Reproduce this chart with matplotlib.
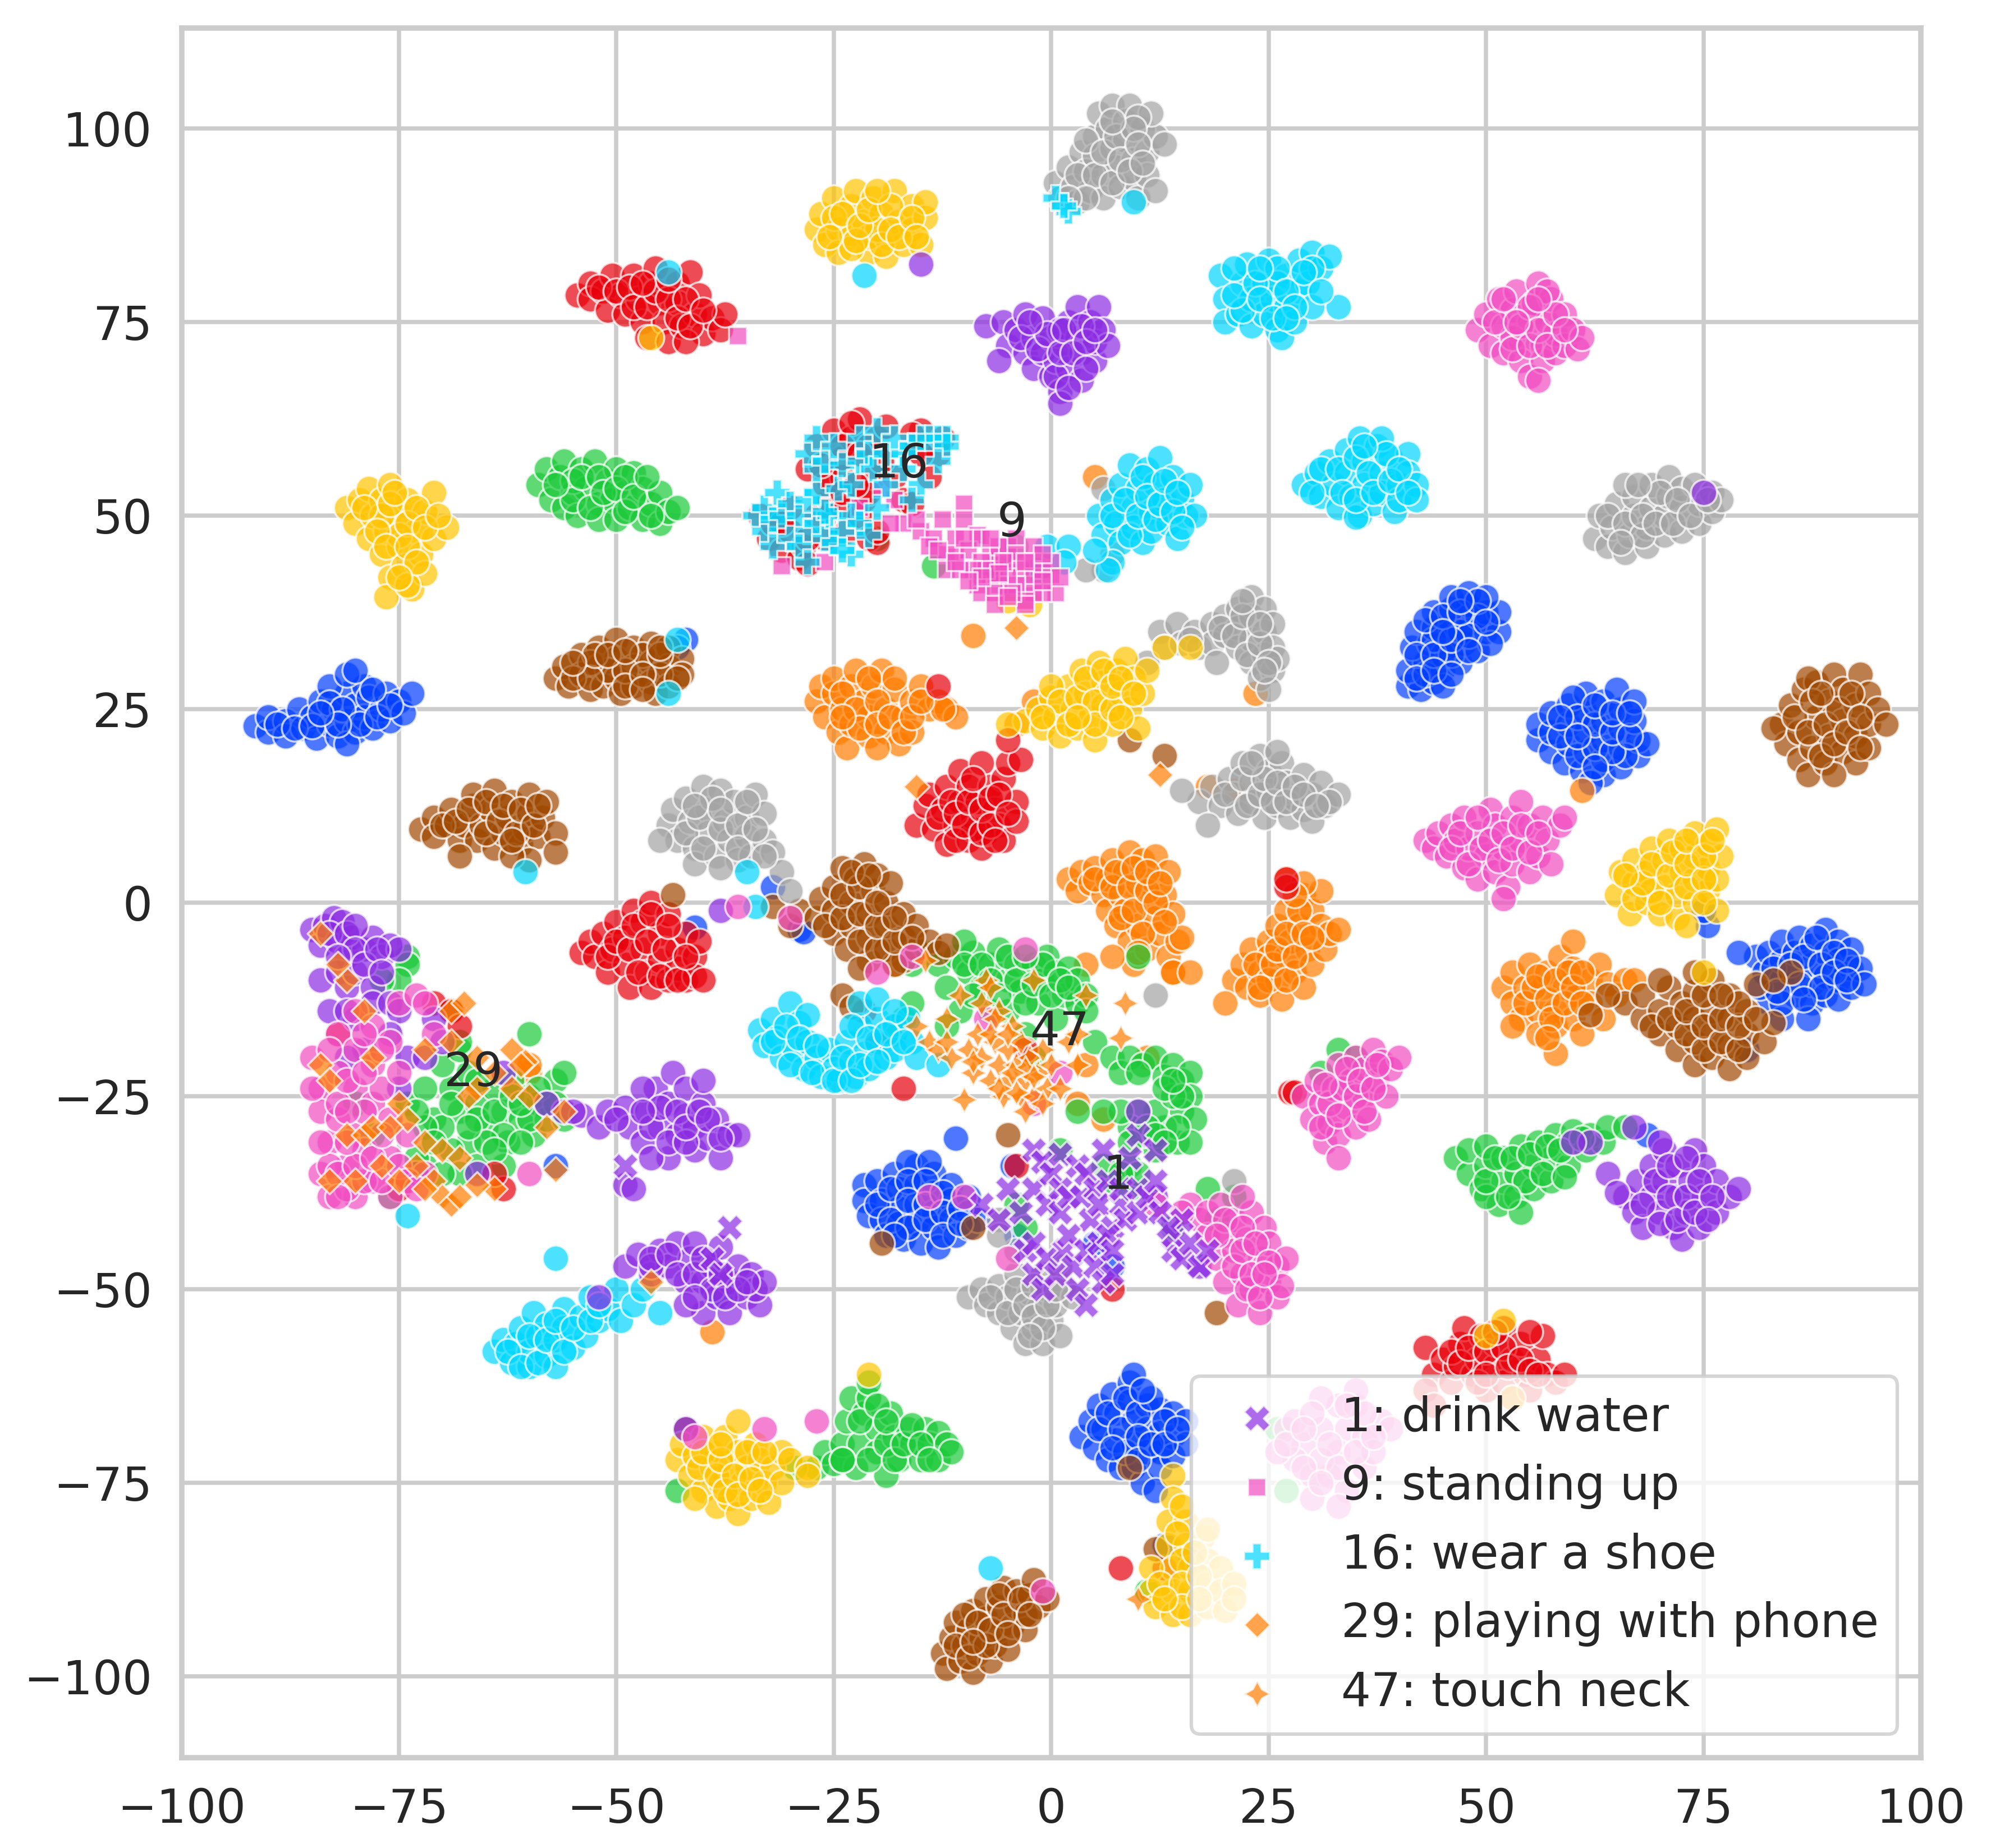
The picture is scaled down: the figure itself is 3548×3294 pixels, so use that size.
import matplotlib
matplotlib.use('Agg')
import matplotlib.pyplot as plt
import seaborn as sns

# t-SNE points, one list per colour
blue = [
    (-91.5,22.8),(-90,22),(-90,24),(-88,23.5),(-88,21.5),(-86.5,25),(-86,22.5),(-85,24),(-84.5,21.2),(-84,26),(-83,23),
    (-82.5,25),(-82,21.5),(-81,27),(-81,23.5),(-80,25.5),(-80,22),(-79,28),(-79,24),(-78.5,26.5),(-78,22.5),(-77,25),
    (-76.5,27),(-76,23.5),(-75,26),(-74.5,24.5),(-83,28),(-81,29.5),(-80,30),(-73.5,27),(-81,20.5),
    (41,28),(42.5,27.5),(44,28.5),(41,30),(43,31),(45,30),(47,31),(41.5,33),(43.5,33.5),(45.5,33),(47.5,33.5),(49,32.5),
    (42,35),(44,35.5),(46,35.5),(48,36),(50,35),(51.5,35),(44,37.5),(46,38),(48,38.5),(50,37.5),(51.5,37.5),(46,39.5),
    (48,40),(50,39.5),(43,29.5),(45,32),(47,35),(49,37),(44,34),(46,32),(48,34.5),(50.5,33.5),(45,28),
    (56,21),(56,23),(57.5,19.5),(57.5,22),(57.5,24.5),(59,18),(59.5,20.5),(59.5,23),(59.5,25.5),(61,17),(61.5,19.5),
    (61.5,22),(61.5,24.5),(61.5,27),(63.5,16.5),(63.5,18.5),(63.5,21),(63.5,23.5),(63.5,26),(65.5,17.5),(65.5,20),
    (65.5,22.5),(65.5,25),(65,27.5),(67.5,19),(67.5,21),(67,23.5),(67,26),(68.5,20.5),(62,15.5),(60,26.5),(66,19),
    (81,-7),(82,-9),(82.5,-6.5),(84,-10),(84,-7.5),(84,-5),(85.5,-12),(85.5,-9),(85.5,-6.5),(86,-4.5),(87.5,-13),
    (87.5,-10.5),(87.5,-8),(87.5,-5.5),(89,-3.5),(89,-6.5),(89,-9.5),(89,-12),(90.5,-5),(90.5,-7.5),(90.5,-10),
    (90.5,-12.5),(92,-6),(92,-8.5),(92,-11),(93,-8.5),(93.5,-10.5),(82.5,-13),(84,-15),(87,-15),(81.5,-11),(84,-13),
    (79,-6.5),(75.5,-3),(75,-1),(80,-19),
    (-21.5,-36.5),(-21.5,-38.5),(-21,-40.5),(-20,-36),(-19.5,-38.5),(-19.5,-41),(-19,-43),(-18,-35),(-17.5,-37),
    (-17.5,-39.5),(-17.5,-41.5),(-17,-43.5),(-15.5,-34),(-15.5,-36.5),(-15.5,-39),(-15.5,-41.5),(-15,-44),(-13.5,-35),
    (-13.5,-37.5),(-13.5,-40),(-13.5,-42),(-13,-44.5),(-11.5,-36.5),(-11.5,-38.5),(-11.5,-41),(-11,-43),(-9.5,-38),
    (-9.5,-40),(-9.5,-42),(-8.5,-41),(-16.5,-33.5),(-14,-33.5),(-11,-30.5),(-4.5,-34),(-4,-43),(7,-47),(5,-44),
    (3.5,-69),(4.5,-67),(5,-70.5),(5.5,-65),(6,-68),(6.5,-72),(7,-63.5),(7.5,-66),(7.5,-69.5),(8,-73),(9,-62),(9,-64.5),
    (9.5,-67),(9.5,-70),(9.5,-73),(11,-65),(11,-68),(11,-71),(10.5,-75),(12.5,-65.5),(12.5,-68.5),(12.5,-71),(12.5,-73),
    (14,-66),(14,-69),(14,-71.5),(15.5,-67),(15.5,-70),(9.5,-61),(12,-76),(13,-83),(16,-85),
    (-41,-3.2),(-32,2),(-29,-3.5),(-28.5,-3.8),(-57,-34),(68.5,-30),(-42,34),(-43,33),
    # second pass over the same blobs, the denser middles
    (-89,23),(-87,22.5),(-85,22.8),(-83,25.8),(-81.5,25),(-79.5,23),(-77.5,24),(-76,25.5),(-82,23),(-84,24.5),(-78,27.5),
    (42,32),(44,32),(46,34),(43,36.5),(45,37),(47,37.5),(49,39),(50,36.2),(42,29),(44,30),(46,29.5),(48,32.5),(45,35),(47,39),
    (58.5,21.5),(60.5,19),(60.5,24),(62.5,20),(62.5,23),(62.5,25.5),(64.5,19.5),(64.5,22),(64.5,24.5),(66.5,21.5),(66.5,24.5),(58.5,24),(60.5,21.5),(62.5,17.5),
    (83,-8.5),(85,-8),(86,-10.5),(86.5,-7),(88.5,-8),(88.5,-11),(88,-4.5),(90,-6.5),(90,-9),(91.5,-7.5),(91.5,-10),(86.5,-12.5),(83.5,-11.5),
    (-20,-39),(-18.5,-37),(-18.5,-41),(-16.5,-36),(-16.5,-38.5),(-16.5,-42),(-14.5,-36),(-14.5,-39),(-14.5,-41),(-12.5,-37.5),(-12.5,-40),(-12.5,-43),(-10.5,-39.5),(-10.5,-41.5),(-18,-43),
    (5.5,-68),(6.5,-66),(8,-68),(8.5,-64),(8.5,-71),(10,-66),(10,-69),(10,-72),(11.5,-64),(11.5,-70),(13,-67),(13,-70),(14.5,-68),(7,-70.5),(10.5,-63),
]
brown = [
    (-57,29),(-56,30.5),(-55.5,28),(-54,32),(-54,29.5),(-53,27.5),(-52,33),(-52,30.5),(-51.5,28),(-50,34),(-50,31.5),
    (-50,29),(-49.5,27),(-48,33),(-48,30.5),(-48,28),(-46,33.5),(-46,31),(-46,28.5),(-45.5,27),(-44,33),(-44,30.5),
    (-44,28),(-42.5,31.5),(-42.5,29.5),(-47,32),(-51,30),(-53,31),(-45,29.5),(-49,30),
    (-72.5,9.5),(-71,11),(-71,8.5),(-69.5,10),(-69,12),(-68,8),(-67.5,10),(-66.5,12.5),(-66.5,14),(-66,8),(-65.5,10),
    (-64.5,12),(-64,14.5),(-64,7),(-63,9),(-62.5,11),(-62,13),(-61,7.5),(-60.5,9.5),(-60,11.5),(-60,14),(-59,8.5),
    (-58.5,11),(-58,13),(-57,9),(-57,6.5),(-60,5.5),(-68,6),(-62,6),
    (84,23),(84.5,20.5),(85,25.5),(86,18.5),(86,22),(86.5,27.5),(87,16.5),(87.5,20),(88,24),(88,28.5),(89,18),(89.5,21.5),
    (89.5,26),(90,29.5),(91,19.5),(91,23.5),(91,27.5),(92.5,18),(92.5,21.5),(92.5,25.5),(93,29.5),(94,20),(94,23),(94,27),
    (95,25),(96,23),(83,22.5),(90,16.5),(87,29),
    (-30,-3),(-29,-1),(-27,-2),(-26.5,0.5),(-25,-4),(-25,-1),(-25,2),(-24,4.5),(-23.5,-6),(-23,-3),(-23,0),(-22.5,3),
    (-21.5,5),(-21,-7.5),(-21,-4.5),(-21,-1.5),(-20.5,1.5),(-20,3.5),(-19,-6),(-19,-3),(-19,0),(-18.5,2.5),(-17,-7.5),
    (-17,-4.5),(-17,-1.5),(-15.5,-6),(-15.5,-3),(-14,-5),(-13,-6.5),(-32,-0.5),(-22,-8.5),(-18,-8),(-12,-5.5),
    (66,-13),(68,-15),(68,-12),(70,-17),(70,-14),(71,-11),(72,-19),(72,-16),(72.5,-13),(74,-21),(74,-18),(74,-15),(74,-11.5),
    (76,-20),(76,-17),(76,-14),(76,-10),(78,-21.5),(78,-18.5),(78,-15),(78,-12),(80,-20),(80,-17),(80,-14),(81,-10.5),
    (82,-18),(83,-15.5),(70,-10),(74,-9),(64,-12),(62,-14.5),(85,-9),(83,-10),
    (-12.5,-97),(-12,-99),(-11.5,-95),(-11,-93),(-10.5,-98),(-10,-96),(-9.5,-94),(-9,-91.5),(-9,-99.5),(-8.5,-97),(-8,-95),
    (-7.5,-92.5),(-7.5,-90),(-7,-98),(-6.5,-96),(-6,-94),(-6,-91),(-5.5,-88.5),(-5,-96.5),(-4.5,-93.5),(-4,-91),(-4,-89),
    (-3,-94),(-3,-92),(-2.5,-89.5),(-2,-87.5),(-1.5,-91),(-0.5,-90),(-10,-92),
    (-42,-68),(-5,-30),(12,-83.5),(9,-73),(-19.5,-44),(-9,-42),(-24,-12),(-23,-13.5),(9,21),(13,19),(-43.5,1),(19,-53),
    # second pass
    (-55,29),(-53,29),(-52.5,32),(-51,32),(-49,28),(-49,32.5),(-47,29.5),(-47,27.5),(-45,32),(-43,29),(-55,31),(-45,33),
    (-70,10),(-68.5,10.5),(-67,12),(-65,9),(-65,13),(-63.5,10.5),(-63,12.5),(-61.5,9),(-61,12),(-59.5,10),(-59,12.5),(-62,8),
    (85.5,24),(87,22),(87.5,26),(88.5,19),(89,23),(90,20.5),(90.5,25),(91.5,22),(92,27),(93,24),(93,20),(88.5,27),
    (-26,-3),(-24,-2),(-24,1),(-22,-5),(-22,-1.5),(-22,2),(-20,-6),(-20,-3),(-20,0),(-18,-5),(-18,-2),(-16,-4.5),(-23,4),(-21,3.5),
    (69,-16),(71,-15),(73,-17),(73,-14),(75,-19),(75,-16),(75,-12),(77,-18),(77,-15),(79,-19),(79,-16),(79,-13),(81,-15),(77,-12),
    (-11,-96),(-9.5,-97.5),(-8.5,-93),(-7.5,-96),(-7,-94),(-6,-89.5),(-5.5,-92),(-5,-94.5),(-3.5,-90),(-2.5,-92),(-9,-95.5),
]
gray = [
    (0.5,93),(1,91),(2,95),(2.5,92.5),(3,90.5),(3.5,97),(4,94.5),(4.5,92),(5,99),(5,96.5),(5.5,102),(6,94),(6,91),(6.5,100),
    (7,97.5),(7,103),(7.5,95),(8,92.5),(8.5,101),(8.5,98.5),(9,103),(9.5,96),(9.5,93.5),(10,91),(10.5,100),(11,97),(11,94),
    (12,99),(12,92),(11.5,102),(13,98),(10,101.5),(4,98.5),
    (62.5,47),(63,50),(64,46),(64.5,48.5),(65,51.5),(66,45.2),(66.5,47.5),(67,50),(67,52.5),(68.5,46),(68.5,48.5),(69,51),
    (69,54),(70.5,47.5),(70.5,50),(71,52.5),(71,55),(72.5,48),(72.5,51),(72.5,53.5),(74.5,49),(74.5,51.5),(74,54),(76,50.5),
    (76,53),(66,54),(77,52),
    (12.5,35),(13,33),(14.5,36),(15,33.5),(16.5,35),(17,33),(18.5,36),(18.5,33.5),(20,37),(20,34.5),(21.5,38),(21.5,35.5),
    (21.5,33),(23,39.5),(23,37),(23,34),(23,31),(24.5,38),(24.5,35),(24.5,32),(24,29),(25.5,36),(25.5,33),(25.5,30),(26,31.5),
    (19,31),(11,31),(25,27.5),
    (17,13),(18.5,15),(19.5,12.5),(20.5,16),(21,14),(21.5,11.5),(22,18),(23,15.5),(23,13),(24,19),(24.5,11),(25,17),(25,14.5),
    (26,12.5),(26.5,18),(27,15.5),(27.5,11),(28,13.5),(29,16.5),(29,12),(30,14),(30,10.5),(31,15.5),(31.5,12.5),(33,14),(32,13),
    (18,10),(15,14.5),(26,19.5),
    (-44,10),(-43.5,12),(-43,8),(-42,13.5),(-41.5,10.5),(-41,7),(-41,5),(-40,15),(-39.5,12),(-39.5,9),(-38.5,6),(-38,14.5),
    (-37.5,10.5),(-37,8),(-36.5,13),(-36,5.5),(-35,11),(-35,8.5),(-34.5,6),(-34,14),(-33,11.5),(-33,8),(-32,6.5),(-31,4),
    (-30,1.5),(-38,4.5),(-45,8),
    (-9.5,-51),(-8,-50),(-7.5,-52),(-6,-49.5),(-6,-53),(-5,-51),(-4.5,-55),(-4,-48),(-3.5,-53),(-3,-57),(-2.5,-50.5),(-2,-55),
    (-1.5,-52.5),(-1,-48),(-1,-57),(-0.5,-50),(0,-54),(0.5,-52),(1,-56),(1.5,-49.5),(2.5,-51),(1,-47),(-4,-45),(-6,-41),
    (-6,-43),
    (6,53.5),(12,-12),(-6,44),(-4,46),(6,43),(4,43),(7,45),(21,-36),
    # second pass
    (3,94),(5,94),(6,97),(7,93),(7.5,99),(8,96),(9,94.5),(9.5,100),(10,98),(10.5,95.5),(4,91),(7,101),(2,91),
    (64,50),(66,49),(68,47.5),(68,50),(69.5,49),(70,53),(71.5,49),(72,52),(73.5,50),(75.5,52),(65.5,46.5),(67.5,54),
    (19.5,35.5),(21,34.5),(22,37),(22.5,32),(24,33.5),(24,36),(25,31),(16,34),(24.5,30),(22,39),
    (20,14),(22,16),(22.5,12.5),(24,14),(24.5,16),(25.5,13),(26,15.5),(27,13),(28,15),(29,14),(30.5,12.5),(23,18),
    (-42,9),(-40.5,11),(-40,7),(-39,13.5),(-38,9.5),(-38,12),(-36,10),(-36,7),(-35,13),(-34,9.5),(-33,6),(-41,12.5),
    (-7,-51),(-5,-53),(-4,-50),(-3,-52),(-2,-49.5),(-2,-53.5),(-1,-55),(-0.5,-52),(0.5,-50),(-2.5,-56),
]
yellow = [
    (-27,87),(-26.5,89),(-26,85),(-25,91),(-24.5,87),(-24.5,84),(-23,90),(-23,86.5),(-22.5,92),(-21.5,88),(-21,84),(-21,86),
    (-20.5,91),(-19.5,89),(-19,86),(-19,83.5),(-18,92),(-17.5,88),(-17,85),(-16,90),(-16,87),(-15,85),(-14.5,88.5),(-14.5,90.5),
    (-25,88.5),(-23,84.5),(-20,87),
    (-81,51),(-80,49),(-79.5,52),(-78.5,47),(-78.5,53.5),(-78,50),(-77,45),(-77,52),(-76.5,48),(-76,42),(-76.5,39.5),(-76,54),
    (-75,50),(-75,46),(-74.5,43.5),(-74,52),(-73.5,40.5),(-73,48),(-72.5,45),(-72,50.5),(-72,42.5),(-71,47),(-71,53),
    (-69.5,48.5),(-74,41),(-77,50),(-75,47.5),
    (-3,23.5),(-1.5,25),(-1,22.5),(0,26.5),(0.5,24),(1,21.5),(2,28),(2.5,25),(3,22.5),(3.5,30),(4,27),(4.5,24),(5,21),(5.5,31),
    (6,28.5),(6,25.5),(7,23),(7.5,30),(8,27),(8.5,31.5),(9,25),(9.5,29),(10,22.5),(10.5,27),(11,30),(-5,23),(0,28),(13,33),
    (65,1),(65.5,4),(66.5,-1.5),(67,2.5),(67,5.5),(68.5,0),(68.5,4),(69,7),(70,-1.5),(70.5,2),(70.5,5.5),(71,8),(72,-2),(72,1),
    (72.5,4),(72.5,7),(74,0),(74,3),(74,6),(74,9),(75.5,1.5),(75.5,4.5),(75.5,7.5),(76.5,-1),(76.5,3),(76.5,9.5),(77,6),(73,-3),
    (-43,-72),(-42.5,-70),(-41.5,-74),(-41,-71.5),(-40,-69),(-40,-76),(-39,-73),(-39,-71),(-38.5,-78),(-38,-75),(-37.5,-69),
    (-37,-73),(-37,-77),(-36,-71),(-36,-79),(-35.5,-75),(-35,-73),(-34.5,-77),(-34,-70),(-33.5,-72),(-33,-75),(-32.5,-77.5),
    (-32,-73),(-31,-71),(-31,-75),(-30,-72),(-28,-73),(-41,-77),
    (14,-74),(14,-77),(13.5,-80),(13.5,-83),(14,-86),(11.5,-86),(11.5,-89),(12,-91),(14,-89),(14,-92),(15.5,-80),(15.5,-83),
    (16,-86),(16,-89),(16,-92),(17.5,-82),(18,-85),(18,-88),(18,-91),(19.5,-86),(19.5,-89),(20,-91.5),(21,-88),(21,-90),(18,-81),
    (-5,39),(-2.5,38.5),(50,-56),(52,-54),(-21,-61),(-36,-67),(16,33),(69,1.5),(53,-64),(-28,-74),(75,-9),(-46,73),
    # second pass
    (-25.5,86),(-24,89),(-22.5,85.5),(-22,87.5),(-21,89.5),(-19.5,85),(-18.5,90),(-18.5,87),(-17.5,86),(-16,88.5),(-15.5,86),(-20,92),
    (-79,51),(-77.5,48),(-76.5,46),(-76,51.5),(-75.5,53),(-74,49),(-74,46),(-73,51),(-73,44),(-72,48.5),(-75,42),(-70.5,50),
    (1,26),(2,23),(3,26.5),(4,29),(5,26),(5,23),(6,30),(7,25),(7,28),(8,29),(8,24),(9.5,27),(3,24),(-1,24),
    (67,0.5),(68,2.5),(69,5),(70,0),(71,3.5),(71.5,6.5),(73,2),(73,5),(73,8),(75,3),(75,6),(75,0),(76,8),(66,3.5),
    (-40.5,-73),(-40,-71),(-38.5,-74),(-38,-72),(-37.5,-76),(-36.5,-74),(-36,-76.5),(-35,-71),(-34.5,-74.5),(-33.5,-76),(-33,-71),(-38,-70),
    (12.5,-88),(15,-85),(15,-88),(15,-91),(17,-87),(17,-90),(13,-90),(15,-78),(14.5,-81.5),(16.5,-84),
]
cyan = [
    (19.5,81),(20,78),(20,75),(21.5,76),(22,80),(22.5,82.5),(23,78),(23,74.5),(24.5,76),(24.5,80),(25,83),(25.5,78),(26,74),
    (26.5,73),(27,81),(27,77),(28.5,79),(28.5,83),(28,75),(29.5,80),(30,84),(30,77),(31,82),(32,83.5),(30,82),(26,80),(33,77),
    (22,76.5),
    (29,54),(30.5,55.5),(31,52.5),(32,57),(32.5,54),(33,51),(34,58.5),(34,55.5),(34.5,52.5),(35.5,60),(35.5,50),(36,57),(36,54),
    (37,51.5),(37.5,59),(38,55.5),(38,53),(39,57.5),(39.5,50.5),(40,54),(40,52),(41,58),(41,55.5),(42,54),(42,52),(30,53),
    (35,49.8),(38,60),
    (5.5,50),(6,47.5),(7,52),(7.5,49),(8,54),(8,46.5),(9,56.5),(9.5,51),(9.5,48.5),(10,53.5),(10.5,46.5),(11,56),(11.5,50.5),
    (11.5,48),(12,54),(12.5,57.5),(13,52),(13.5,49),(14,55),(14.5,47),(15,52),(15.5,50),(16,54),(16.5,50),(7,44),(6.5,43),(5,45.5),
    (-33.5,-16.5),(-33,-18.5),(-32,-15),(-31.5,-17.5),(-31,-20),(-30,-13),(-29.5,-19),(-29,-15.5),(-28.5,-21.5),(-28,-18),
    (-27,-20),(-26.5,-22.5),(-25.5,-19),(-25,-21.5),(-24.5,-23),(-23.5,-18),(-23,-20.5),(-22.5,-22.5),(-22,-16),(-21.5,-19.5),
    (-21,-21.5),(-20,-15),(-20,-18),(-19,-20),(-18,-16),(-18,-19),(-16.5,-15),(-16,-18),(-15.5,-20),(-22,-13),(-20,-12.5),(-28,-14.5),
    (-64,-58),(-63,-56.5),(-62,-59.5),(-61.5,-57),(-61,-55),(-60,-60),(-60,-58),(-59.5,-53),(-59,-56),(-58,-58.5),(-58,-54.5),
    (-57,-60),(-57,-56.5),(-56,-52.5),(-56,-55),(-55,-57.5),(-54,-53.5),(-53.5,-56),(-53,-51),(-52,-54),(-51,-52.5),(-50,-50),
    (-49.5,-54),(-48,-52),(-47,-50),(-57,-46),(-45,-53),
    (-21.5,81),(9.5,90.5),(-44,81.5),(-60.5,4),(-34,-0.5),(-74,-40.5),(-43,34),(-44,27),(-35,4),(-0.5,46),(2,46),(1.5,44),(-1.5,43),
    (-13,-21),(-38,-51),(-7,-86),(-23,-16),(-18,-14),
    # second pass
    (21,78.5),(23.5,80),(24,78),(25.5,75.5),(26,82),(27,79),(28,77),(29,81.5),(21,82),(24,82),(27,75.5),(31,79),
    (31,56),(33,56),(33.5,53),(35,52),(35,57.5),(36.5,55.5),(37,53),(38.5,58),(39,54.5),(40,56),(41,53),(36,59),
    (7,50),(8.5,52),(9,47.5),(10,50),(10.5,55),(11,52.5),(12,49.5),(12.5,51.5),(13,54.5),(14,50.5),(15,48.5),(14.5,53),
    (-32,-18),(-30.5,-16),(-30,-21),(-29,-17.5),(-27.5,-22),(-27,-18.5),(-25,-23),(-24,-20),(-23,-23),(-22,-21),(-21,-17.5),(-20,-20.5),(-19,-17),(-17,-18),
    (-62.5,-58),(-61,-60),(-60,-56),(-59,-59.5),(-58,-56.5),(-57,-54),(-56,-58),(-55,-55),(-53,-54),(-52,-52),
]
purple = [
    (-7.5,74.5),(-5.5,75),(-5,72),(-4,74),(-3,76),(-3,71),(-2,73),(-2,69),(-1,75.5),(-1,71),(0,73),(0,68),(0.5,70),(1,66),(1,64.5),
    (1.5,72),(2,75),(2,69),(3,77),(3,73),(3.5,67.5),(3.5,71),(4.5,75),(5,70),(5,72.5),(5.5,77),(6,74),(6.5,72),(1,74),(-6,70),
    (66,-38),(67,-40),(67.5,-36),(68,-42),(69,-38),(69,-34),(70,-40),(70.5,-36),(70.5,-32),(71.5,-42),(72,-38),(72,-34),(72.5,-43.5),
    (73,-40),(73.5,-36),(74,-32),(74.5,-42),(75,-38),(75,-34),(76.5,-40),(76.5,-36),(78,-38),(79,-37),(64,-35),(62,-31),(60,-31),
    (67,-29),(70,-31),(65,-37.5),
    (-56,-27),(-54,-27.5),(-52,-29),(-51,-27),(-49,-26.5),(-48.5,-29),(-47,-31),(-46.5,-27),(-45.5,-24),(-45,-29),(-44,-33),
    (-44,-26),(-43.5,-22),(-43,-30),(-42,-24),(-42,-27.5),(-41,-32),(-41,-29),(-40,-26),(-39.5,-30.5),(-38.5,-28),(-38,-33),
    (-37,-30),(-46,-33),(-49,-36.5),(-48,-37),(-47,-24),(-40,-23),(-36,-30),
    (-49,-47),(-47.5,-45.5),(-46,-48),(-45,-45),(-44,-47),(-43,-44),(-42,-49),(-41.5,-46),(-41,-44),(-40,-53),(-40,-49),(-39,-47),
    (-38.5,-51),(-38,-44.5),(-37,-49),(-37,-53),(-36,-47),(-35,-51),(-34.5,-48),(-33.5,-52),(-34,-50),(-33,-49),(-42,-52),(-52,-51),
    (-85,-3.5),(-84,-5.5),(-83.5,-3),(-82.5,-2),(-82,-5),(-81.5,-2.5),(-81,-7),(-80.5,-4.5),(-79,-6),(-78,-4.5),(-77,-7),(-76,-5.5),
    (-75,-6),(-84,-10),(-82,-9),(-81,-11),(-80,-9),(-78,-11),(-83,-14),(-80,-15),(-78,-13),(-76,-13),(-75,-14),(-76,-17),(-79,-19),
    (-81,-20),(-74,-20),(-71,-15),(-75,-24),(-72,-20),(-73,-35),(-70,-18),(-63,-22),(-58,-26),(-55,-27),(-66,-35),
    (-38,-1),(12,-38),(-15,82.5),(-46,-47),(-42,-68),(75,53),(10,-27),(17,-47),
    # second pass
    (-3.5,73),(-1.5,71.5),(-0.5,73.5),(0.5,68),(1,71),(1.5,74),(2,66.5),(2.5,71),(3.5,74.5),(4,69),(4,72.5),(5,74),(-2.5,75),
    (68,-39),(69.5,-36),(70,-41.5),(71,-38),(71,-34),(72,-41),(73,-38),(73,-33),(74,-40),(74.5,-36),(76,-38),(75.5,-41),
    (-50,-28),(-46,-29),(-45,-26.5),(-44,-31),(-43,-27),(-42,-31),(-42,-29),(-40.5,-27),(-39.5,-28),(-38,-30.5),(-47,-27),
    (-46,-46),(-44,-45.5),(-43,-48),(-41,-48),(-40,-46),(-39,-50),(-38,-48),(-37.5,-51),(-36,-50),(-35,-49),(-41,-51),
    (-83,-4),(-81,-4),(-80,-3),(-80,-6),(-82,-7),(-79,-8),(-77.5,-6),(-81,-14),(-77,-9),
]
red = [
    (-54.5,78.5),(-53,80),(-53,78),(-51.5,79),(-51,76.5),(-50.5,81),(-49.5,78.5),(-49,76),(-48,81),(-47.5,78),(-47,75),(-46.5,73),
    (-46,80),(-45.5,82),(-45,77.5),(-44.5,75),(-44,72.5),(-43,80),(-43,77.5),(-42.5,74.5),(-41.5,81.5),(-41,76),(-40.5,78.5),
    (-40,73.5),(-39,75.5),(-38,74),(-37.5,76),(-42,72.5),(-52,79.5),
    (-15.5,10),(-14.5,12.5),(-14,14),(-13.5,9.5),(-12.5,12),(-12,15),(-12,7.5),(-11,10),(-10.5,17),(-10.5,13),(-9.5,8),(-9.5,15),
    (-9,11),(-8.5,13),(-8,18),(-8,7),(-7.5,9),(-7,15),(-6.5,12),(-6,10),(-5.5,16),(-5.5,8),(-5,18),(-4,13),(-4,10.5),(-3.5,18.5),
    (-5,21),(-9,9.5),(-11,8),
    (-54,-6.5),(-53,-5),(-52.5,-7),(-51.5,-4),(-51,-9),(-50.5,-6),(-50,-2.5),(-49,-8),(-49,-4.5),(-48.5,-11),(-48,-1),(-47,-6),(-47,-2.5),
    (-46.5,-9),(-46,0),(-46,-11),(-45,-4),(-45,-7.5),(-44,-10),(-44,-1.5),(-43,-6),(-43,-8.5),(-42,-10),(-42,-4),(-41,-7),(-41,-9.5),
    (-40,-10),(-40.5,-5),
    (43,-57.5),(44,-61),(45,-59),(46,-62),(46.5,-60),(47,-57),(47.5,-55),(48.5,-61),(49,-59),(49.5,-56),(50,-63),(51,-60),(51,-57),
    (52,-55),(52,-62),(53,-59),(53,-64),(54,-57),(54.5,-61),(55,-63),(56,-59),(56.5,-56),(57,-61),(58,-62),(59,-61),(55,-55.5),
    (-33.5,50),(-32.5,47),(-32,49),(-31,45.5),(-30,48),(-30,51),(-29,44.5),(-28.5,46),(-28,43.8),(-27,50),(-26,47),(-25.5,52),
    (-25.5,54.5),(-24,51),(-24,55),(-23.5,48),(-22,50),(-21.5,52),(-21,47),(-20,46.5),
    (-28,56),(-27,59),(-26,54),(-25,61),(-24,57.5),(-23,60),(-22,62.5),(-21,59),(-20.5,55),(-20,60),(-19,61.5),(-18,55),(-17,52),
    (-16,51.5),(-15,61),(-14.5,59),(-13,58),(-12.5,60),(-14,55),(-20,48),(-26.5,56.5),(-21,53),
    (-82,-17),(-71,-13),(-69,-14),(-68,-16),(27.5,-24.5),(28,-24.5),(27,2),(27,3),(-3,-19),(-20,-18),(7,-50),(-13,28),(-21.5,-14),
    (8,-86),(13,-86),(-4,-34),(-17,-24),(-63,-37),(-64,-35),(43,-63),(44,-65),(-75,-37),
    # second pass
    (-50,79),(-48.5,79.5),(-48,77),(-46.5,77),(-45.5,79),(-44,78),(-44,80.5),(-43,75.5),(-42,78),(-41.5,74.5),(-47,80),(-40,76.5),
    (-13,11),(-11.5,13),(-11,11.5),(-10,10),(-9.5,13),(-9,16),(-8,9),(-8,12),(-7,13.5),(-7,10),(-6,14),(-5,11.5),(-6.5,8),
    (-51,-7),(-50,-5),(-48.5,-6),(-48,-3),(-47.5,-9),(-46.5,-5),(-46,-1.5),(-45,-9.5),(-44.5,-6),(-44,-3),(-43,-10),(-42,-7),
    (46,-58),(47,-59.5),(48,-57.5),(49,-62),(50,-58),(50,-61),(52,-57.5),(52.5,-60),(54,-59),(55,-60.5),(56,-61),(51,-55.5),
    (-31,49),(-28,47),(-24,53),(-22.5,54),(-23,62),(-24,59),(-19.5,57),(-16,60.5),(-15,58),(-22,58),
]
orange = [
    (-27,26),(-26.5,28),(-26,24),(-25,27),(-25,29),(-24.5,22),(-24,25),(-23.5,20),(-23,28),(-23,23),(-22.5,30),(-21.5,26),(-21,21.5),
    (-21,24),(-20.5,28),(-19.5,30),(-19,25),(-19,22),(-18,27.5),(-17.5,20.5),(-17,24),(-16,26),(-16,22),(-15,28),(-14,25),(-13,26),
    (-12,25),(-11,24),(-20,20),
    (2,3),(3,1.5),(3.5,4),(4.5,2.5),(5,4.5),(6,1),(6.5,3),(6.5,-1),(7,5.5),(7.5,-3),(8,1),(8.5,4),(8.5,-1),(9,6.5),(9,-5),(9.5,-8),
    (10,2.5),(10,-3),(10.5,5.5),(11,0),(11,-6),(11.5,3),(12,-2),(12,6),(12.5,-4),(13,1),(13.5,-7),(13.5,4),(14,-1.5),(14.5,-5),(15,-4.5),
    (14,-9),(4,-8),(7,-7),
    (21,-10),(22,-8),(22.5,-11),(23,-6),(24,-9),(24,-12),(25,-5),(25,-7),(26,-10),(26,-3),(26.5,-12.5),(27,-7),(27,-1),(27.5,-5),(28,-9),
    (28.5,-3),(29,1),(29,-11),(29.5,-6),(30,-1),(30,-8),(31,-3),(31,1.5),(31.5,-6),(32,-4),(33,-3.5),(27,3),(29,2.5),
    (52,-11),(53,-13),(53,-9),(54,-15),(54.5,-11),(55,-8),(56,-14),(56,-17),(56.5,-11),(57,-9),(58,-14),(58,-19.5),(58,-16),(58.5,-7),
    (59,-11),(60,-15),(60,-8.5),(60,-5),(60.5,-12),(61,-17),(62,-10),(62,-13),(63,-8),(63.5,-15),(64,-10.5),(65,-12),(66,-10),(67,-10),(53,-16),
    (-9,34.5),(61,14.5),(-12.5,25),(14,-9),(21,14.5),(23.5,27),(3,-26),(16,-9),(20,-13),(-60,-22),(-60,-21),(-39,-55.5),(-18,-8),
    (5,55),(6,-28),(-4,23),(-2,26),(11,-20),(4,-21),(18,15),
    # second pass
    (-24,27),(-22.5,25),(-22,22.5),(-21,29),(-20,26),(-20,23),(-18.5,24),(-18,29),(-17,22),(-16,24),(-24,24),(-15,26),
    (5,3),(7,2),(7.5,4),(8,-2),(9,2),(9.5,-1),(9.5,4.5),(10.5,-4),(11,1.5),(11,4),(12,0),(12.5,2.5),(13,-2.5),(10,-6.5),
    (23.5,-8),(25,-10),(25.5,-8),(26,-6),(27,-4),(27,-10),(28,-7),(28.5,-1),(29,-4),(30,-4.5),(28,1),(24,-11),
    (54.5,-13),(55.5,-11),(56,-9.5),(57,-12.5),(57.5,-15),(58,-10),(59,-13),(59.5,-9),(60,-11),(61,-13),(61,-9),(57,-17.5),
]
green = [
    (-59,54),(-58,56),(-57.5,52),(-56.5,55),(-56,57),(-56,51),(-55,53),(-54.5,50),(-54,56),(-53.5,53.5),(-52.5,57),(-52,51.5),(-52,49.5),
    (-51,54.5),(-50.5,52),(-50,56),(-50,49.5),(-49,53),(-48.5,51),(-48,55.5),(-47,49.5),(-47,53.5),(-46,51.5),(-45,49),(-45,53),(-44,50.5),
    (-43,51),(-55,54.5),
    (46.5,-33),(48,-35),(48,-32),(49.5,-37),(50,-34),(50,-31.5),(51.5,-39),(52,-36),(52,-33),(53.5,-38),(53.5,-35),(54,-31.5),(55.5,-37),
    (55.5,-34),(56,-31),(57.5,-36),(57.5,-33),(58,-30),(59.5,-34),(59.5,-31),(60,-29.5),(61.5,-32),(62,-30),(63.5,-31),(64,-29),(66,-29),
    (54,-40),(50,-38),
    (-27,-73),(-26,-71),(-25,-72.5),(-24,-70),(-23.5,-67),(-23,-64),(-22.5,-73),(-22,-70),(-21.5,-66),(-21,-64),(-20,-68),(-20,-71),
    (-19,-74),(-18.5,-66),(-18,-69),(-17.5,-72),(-16.5,-68),(-16,-70),(-15,-72),(-14.5,-68),(-14,-70),(-13,-72),(-13,-68.5),(-12,-70),
    (-11.5,-71),(-21,-62),(-29.5,-73),
    (-16,-8),(-14.5,-6.5),(-13,-8),(-12,-11),(-11,-7),(-10.5,-14),(-9.5,-9),(-9,-6.5),(-8,-11),(-7,-14),(-7,-8),(-6,-6),(-5,-10),(-5,-14),
    (-4,-8),(-3.5,-11.5),(-3,-17),(-2,-8),(-1.5,-13),(-1,-10),(-0.5,-7),(0.5,-9),(0.5,-15),(1.5,-12),(2,-8.5),(3,-10),(3,-13),(4,-12),(4,-14),
    (-17,-15),(-12,-16),(-2,-20),(-16,-13),(-18,-17),(5,-18),
    (7,-20),(8,-22),(9,-20),(10.5,-21),(12,-20),(13,-22.5),(14,-21),(15,-23),(16,-22),(16,-25),(15,-27),(16.5,-28),(14.5,-31),(13,-29),
    (12,-27),(12,-32),(10.5,-30),(10,-27),(9,-29),(8,-27),(6,-27),(3,-27),(14,-25),(16,-31),(7,-36),(6,-34),(9,-34),(9,-37),(10,-35),(1,-32),
    (-69,-24),(-68,-27),(-67,-22),(-66,-26),(-65,-29),(-64,-24),(-63,-27),(-62.5,-31),(-62,-23),(-61,-28),(-60,-25),(-59.5,-30),(-59,-26),
    (-58,-28),(-57,-23),(-57,-26),(-56,-28),(-67,-31),(-66,-34),(-63,-34),(-69,-32),(-71,-28),(-70,-21),(-68,-19),(-72,-34),(-74,-26),
    (-72,-24),(-74,-7),(-74,-8),(-75,-10),(-77,-10),(-69,-14),(-68,-18),(-60,-17),(-56,-22),(-80,-26),(-78,-30),(-76,-38),(-73,-33),
    (-13.5,43.5),(-20,47),(-4,-39),(19,-41),(14,-42),(18,-37),(21,-38),(-3,-42),(-24,-72),(-43,-76),(33,-19),(35,-20),(31,-22),(11,-89),
    (-10,-5),(10,-7),(27,-76),(26,-68),
    # second pass
    (-55,52),(-54,55),(-53,51),(-52,55),(-51.5,53),(-50,53.5),(-49,55),(-49,50.5),(-48,52.5),(-46.5,55),(-46,50),(-57,54),
    (50,-36),(51,-33),(53,-33),(54.5,-36),(55,-32.5),(56.5,-35),(57,-31.5),(58.5,-32),(59,-35.5),(61,-30.5),(52.5,-38),
    (-22,-67),(-21,-72),(-20,-65),(-19,-70),(-18,-72),(-17,-70),(-16,-67.5),(-15,-70),(-14,-72),(-19,-67),(-24,-72),
    (-10,-8),(-8,-8),(-7,-10),(-6,-12),(-5,-7),(-4,-10),(-3,-13),(-2,-10.5),(-1,-8),(0,-12),(1,-10),(2,-11),(-9,-12),(-3,-7),
    (13,-24),(14.5,-29),(15,-25),(11,-29),(12,-30),(13,-31),(9,-31),(10,-22),(14,-23),(8,-35),
    (-66,-28),(-64,-27),(-63,-30),(-62,-25),(-60,-28),(-61,-31),(-59,-24),(-65,-31),(-58,-26),(-66,-23),(-64,-32),(-61,-26),
    (-70,-29),(-72,-29),(-71,-31),(-73,-27),(-68,-35),(-70,-35),(-67,-29),(-69,-26),
]
pink = [
    (49,74),(50,76),(50.5,72),(51.5,78),(52,74.5),(52,71),(53,76.5),(53.5,79),(54,72.5),(54,70),(55,75),(55,68),(55.5,77.5),(56,80),(56.5,72),
    (56.5,70),(57,75),(57.5,78),(58,71),(58,73.5),(59,76),(59,72),(60,74),(60.5,71.5),(61,73),(53,73),(56,67.5),(57,79),
    (43,8),(44,7),(44.5,9),(45.5,6),(46,10),(46.5,8),(47.5,4.5),(47.5,11),(48,7),(49,9),(49,3),(50,6),(50.5,12),(51,4),(51,10),(52,7),
    (52.5,2),(53,11),(53,5),(54,13),(54,8),(55,4),(55,10),(56,6),(56.5,11),(57,8),(57.5,5),(58.5,10),(59,11),(52,0.5),
    (29,-25),(30,-28),(30.5,-23),(31,-26),(31.5,-31),(32,-28.5),(32.5,-24),(33,-21),(33,-30),(34,-26.5),(34.5,-23),(35,-20),(35,-29),(36,-25),
    (36,-21.5),(36.5,-28),(37,-19),(37.5,-23),(38,-20.5),(38.5,-25),(39,-21.5),(40,-20),(33,-33),
    (16,-39),(17,-41),(18,-43),(18,-40),(19,-46),(19.5,-39),(20,-43),(20,-49),(21,-41),(21,-45),(21.5,-52),(22,-48),(22.5,-43.5),(23,-50),
    (23,-40),(24,-46),(24,-53),(24.5,-42),(25,-49),(25,-44),(26,-47),(26,-51),(26.5,-49.5),(27,-46),(22,-38),(15,-40),(12,-39),
    (33,-65),(34,-68),(27,-68),(29,-70),(31,-68),(33,-71),(35,-65),(36,-69),(28,-72),(30,-74),(32,-74),(34,-76),(36,-73),(38,-67),(37,-71),
    (31,-64),(30,-77),(33,-78),(39,-68),(26,-71),(28,-67),(31,-72),(-33,-68),(35,-63),
    (30,-66),(32,-70),(29,-73),(33,-73),(35,-71),(27,-70),(36,-66),(34,-65),(31,-75),(37,-69),(29,-68),
    (-85,-20),(-84,-24),(-84,-27),(-83,-31),(-84,-35),(-83,-38),(-82,-22),(-82,-17),(-82,-28),(-81,-34),(-80,-38),(-80,-14),(-80,-19),(-80,-24),
    (-80,-30),(-78,-16),(-78,-21),(-78,-26),(-78,-36),(-79,-32),(-76,-18),(-76,-28),(-76,-33),(-76,-38),(-75,-13),(-73,-12),(-72,-35),(-74,-30),
    (-72,-13),(-81,-37),(-83,-34),(-77,-24),(-60,-35),(-75,-22),(-71,-17),
    (-7.5,-15),(-20,-9),(-16,-7),(-36,-0.5),(-2,-26),(-30,-2),(-41,-69),(-27,-67),(-1,-89),(-14,-38),(-5,-46),(-10,-38),(1,-22),(-3,-6),
    # second pass
    (51,75),(52,78),(53,71.5),(54,74.5),(55,72),(55,77),(56,74),(57,72),(58,76),(59,74),(56,78),(53.5,75),
    (46,7),(47,9),(48,5),(49,11),(49.5,7),(50.5,8),(51.5,5.5),(52,9),(53,7),(54,10),(55,6.5),(56,9),
    (31,-29),(32,-26),(33,-27.5),(33.5,-24),(34,-21.5),(35,-25),(35.5,-23),(36,-27),(37,-24),(37.5,-21),(31.5,-23.5),
    (20,-41),(21,-47),(22,-42),(22,-45),(22.5,-50),(23,-48),(23.5,-44),(24,-51),(25,-46.5),(24.5,-48),(19,-43),
    (-82,-26),(-81,-23),(-79,-22),(-79,-27),(-82,-35),(-79,-36),(-77,-19),(-80,-34),(-77,-36),
    (-85,-24),(-84,-31),(-83,-19),(-81,-27),(-81,-31),(-79,-17),(-78,-33),(-77,-30),(-75,-34),(-74,-36),(-82,-38),(-73,-37),
]
# actions picked out with their own marker
drink_water = [
    (-8,-39),(-6,-41),(-5,-37),(-3.5,-40),(-3,-45),(-2,-37),(-2,-32),(-1,-33.5),(-0.5,-39),(0,-35),(1,-32.5),(1,-37),(1,-40),(2,-38),(3,-34),
    (3.5,-38),(4,-35),(4.5,-41),(5,-37),(5.5,-39),(6,-32),(6.5,-36),(7,-42),(8,-39),(8,-37),(8.5,-41),(9,-33),(10,-37),(10,-40),(11,-38),
    (12,-36),(12.5,-40),(-2,-48),(-2,-44),(-1,-50),(-0.5,-46),(0.5,-48),(1.5,-45),(2.5,-47),(2,-43),(3,-50),(4,-45),(4,-52),(5,-47),(5.5,-44),
    (6,-49),(6.5,-43),(7,-45),(7,-48),(14,-45),(14,-43),(15,-46),(15,-41),(16,-44),(13.5,-42),(17,-47),(18,-45),(10,-30),(12,-32),(-37,-42),
    (-39,-46),(-38,-48),(-49,-34),
]
standing_up = [
    (-18,52),(-19.5,53.5),(-17,49),(-15,48),(-13.5,47),(-12.5,49.5),(-10,51.5),(-10,49.5),(-8.5,47.5),(-12,45),(-11,47),(-11,45),(-9.5,45.5),
    (-8,47),(-7,45),(-6.5,43),(-6,46),(-5,46),(-5,44),(-4,47),(-4,45),(-3.5,43),(-3,41),(-2,46),(-2,44),(-2,42),(-1,43),(0,44),(0,42),(0.5,40),
    (-1,40),(-2,40),(-4,41),(-5,42),(-6,41),(-7,42),(-8,44),(-8.5,41),(-8,40),(-6.5,40),(-7.5,43),(-9,43),(-3,39),(-3,38.5),(-18.5,49),(-36,73.2),
    (-15.5,49.5),(-14,46),(-12,43),(-10.5,43),(-13,45.5),(-1,45),(1,42),(-31,43.5),(-26,44),(-22,51),
    (-10,47),(-7,47),(-5.5,44),(-4.5,40),(-3,44),(-1,41.5),(-6,42.5),(-8,42),(-11,44),(-6.5,38.5),(-5,39.5),(-9.5,41.5),
]
wear_shoe = [
    (-34,50),(-33,48),(-33,51),(-32,46),(-32,49.5),(-31.5,53),(-31,50),(-30,51.5),(-30,47),(-29,50),(-28,52),(-28,48),(-27,49),(-26,47),(-25.5,50),
    (-25,46.5),(-24,48),(-23,50),(-23,45),(-22,49),(-21,47.5),(-24,45.5),(-27,53),(-29,46),(-28,44),(-26,50.5),
    (-28,58),(-27,56),(-27,60),(-26,57),(-25,59),(-24.5,53.5),(-24,56.5),(-23,54),(-22,60),(-22,57),(-21,58),(-20.5,56),(-20,61),(-19,58),(-19,54),
    (-18,60),(-17,58),(-17,56),(-16,59),(-15,60),(-14,60),(-13,60),(-12,60),(-12,59),(-13,57),(-15,54),(-16,52),(-20,51),(2,89.3),(0.5,91),(1.5,90),
]
playing_phone = [
    (-84,-4),(-81,-10),(-82,-8),(-79,-14),(-78,-20),(-69,-14),(-67.5,-13),(-72,-19),(-69,-18),(-66,-20),(-62,-19),(-60.5,-20.5),(-61,-21),(-64,-22),
    (-66,-24),(-67,-25),(-84,-21),(-83,-23),(-75,-26),(-74,-28),(-72,-31),(-70,-32),(-81,-30),(-79,-30),(-78,-29),(-76,-29),(-80,-36),(-83,-36),
    (-75,-36),(-68,-33),(-64,-37),(-66,-36.5),(-71,-36),(-70,-38),(-72,-37),(-69,-39),(-68,-38),(-57,-34.5),(-56,-27),(-62,-24),(-58,-29),
    (-77,-34),(-73,-34),(-60,-25),(-46,-49),(-4,35.5),(-15.5,15),(12.5,16.5),
]
touch_neck = [
    (-15.5,-16),(-14.5,-7.5),(-14,-18),(-13,-19),(-12,-15),(-11.5,-20),(-10.5,-12),(-9.5,-19),(-9,-22),(-8.5,-17),(-8,-13),(-8,-20),(-7.5,-10),
    (-7,-23),(-6.5,-18),(-6,-21),(-6,-14),(-5.5,-25),(-5,-19),(-5,-23),(-4.5,-16),(-4,-21),(-3.5,-25),(-3.5,-18),(-3,-27),(-3,-23),(-2.5,-20),
    (-2,-25),(-1.5,-22),(-1,-19),(-0.5,-24),(0,-21),(1,-24),(-7,-11),(-6.5,-15),(-12,-18),(-4,-24.5),(2,-18),(3,-21),(3,-17),(4,-12),(8,-17.5),
    (8.5,-13),(-2,-10),(10,-90),(-10,-25.5),(-9,-20.5),(-7,-17),(-6,-24),(-5,-17),(-3,-21.5),(-2,-22.5),(-1,-26),(-4.5,-22),
]

class_labels = ['1: drink water', '9: standing up', '16: wear a shoe', '29: playing with phone', '47: touch neck']
class_ids = ['1', '9', '16', '29', '47']
class_pos = [(7.7, -35.3), (-4.5, 49), (-17.5, 56.6), (-66.4, -22), (1, -16.7)]
xticks = [-100, -75, -50, -25, 0, 25, 50, 75, 100]
yticks = [-100, -75, -50, -25, 0, 25, 50, 75, 100]

sns.set_theme(style='whitegrid', context='talk')
plt.rcParams['grid.linewidth'] = 1.8
plt.rcParams['axes.linewidth'] = 2.3
pal = sns.color_palette('bright', 10)

fig, ax = plt.subplots(figsize=(3548 / 300, 3294 / 300))
fig.subplots_adjust(left=323.5 / 3548, right=3423 / 3548, top=1 - 50 / 3294, bottom=1 - 3133 / 3294)


def draw(pts, color, marker='o', label=None):
    xs = [p[0] for p in pts]
    ys = [p[1] for p in pts]
    ax.scatter(xs, ys, s=125, c=[color], marker=marker, alpha=0.7, edgecolors='white', linewidths=0.9, label=label)


draw(blue, pal[0])
draw(orange, pal[1])
draw(green, pal[2])
draw(red, pal[3])
draw(brown, pal[5])
draw(gray, pal[7])
draw(yellow, pal[8])
draw(cyan, pal[9])
draw(purple, pal[4])
draw(pink, pal[6])

draw(drink_water, pal[4], 'X', class_labels[0])
draw(standing_up, pal[6], (4, 0, 45), class_labels[1])
draw(wear_shoe, pal[9], 'P', class_labels[2])
draw(playing_phone, pal[1], (4, 0, 0), class_labels[3])
draw(touch_neck, pal[1], (4, 1, 0), class_labels[4])

for name, pos in zip(class_ids, class_pos):
    ax.text(pos[0], pos[1], name, fontsize=20, color='.15', ha='center', va='center')

ax.set_xlim(-100, 100)
ax.set_ylim(-110.5, 113)
ax.set_xticks(xticks)
ax.set_yticks(yticks)
ax.tick_params(labelsize=20)
ax.legend(loc='lower right', fontsize=20)

fig.savefig('out.png', dpi=300)
